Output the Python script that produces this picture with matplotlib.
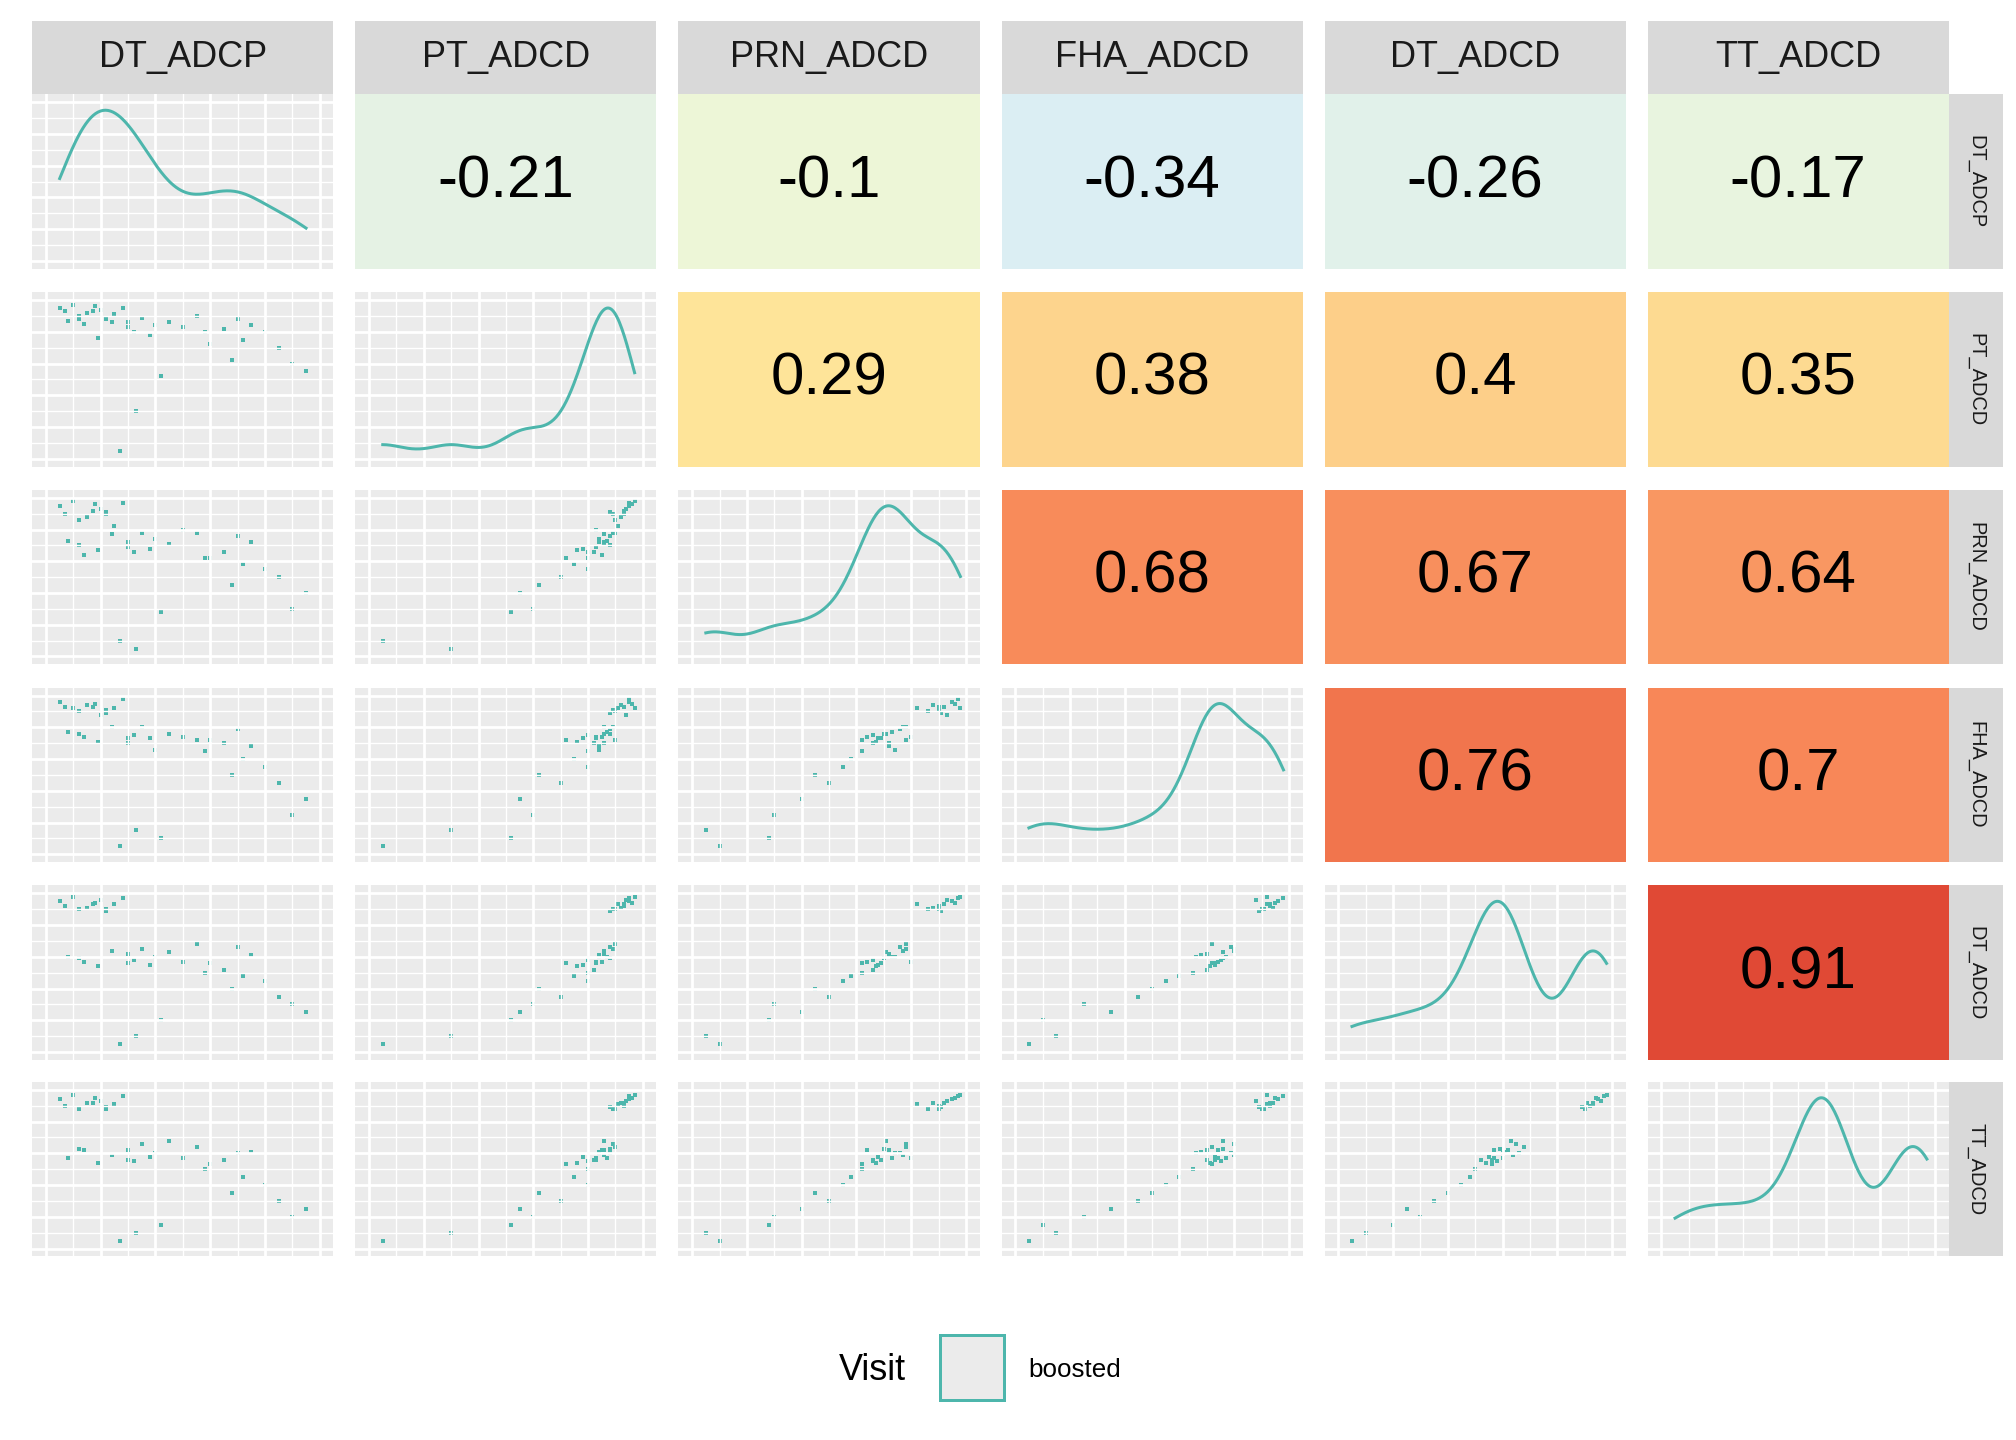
import numpy as np
import matplotlib.pyplot as plt
from matplotlib.colors import LinearSegmentedColormap

plt.rcParams['font.family'] = ['Liberation Sans', 'DejaVu Sans']

# variables (rescaled values)
names = ['DT_ADCP', 'PT_ADCD', 'PRN_ADCD', 'FHA_ADCD', 'DT_ADCD', 'TT_ADCD']
dt_adcp = [0.05, 0.07, 0.10, 0.12, 0.15, 0.18, 0.20, 0.22, 0.25, 0.28, 0.30, 0.32, 0.35, 0.38, 0.40,
           0.45, 0.50, 0.55, 0.60, 0.65, 0.70, 0.75, 0.80, 0.85, 0.90, 0.95, 0.08, 0.14, 0.19, 0.24,
           0.27, 0.33, 0.42, 0.58, 0.68, 0.72, 0.12, 0.30, 0.17, 0.22]
pt_adcd = [0.95, 0.93, 0.97, 0.90, 0.92, 0.96, 0.94, 0.88, 0.91, 0.95, 0.86, 0.80, 0.89, 0.78, 0.84,
           0.86, 0.83, 0.90, 0.72, 0.82, 0.88, 0.84, 0.80, 0.70, 0.60, 0.55, 0.87, 0.85, 0.76, 0.86,
           0.05, 0.30, 0.52, 0.80, 0.62, 0.75, 0.88, 0.83, 0.93, 0.89]
prn_adcd = [0.95, 0.90, 0.98, 0.86, 0.88, 0.96, 0.93, 0.91, 0.82, 0.97, 0.72, 0.66, 0.78, 0.68, 0.74,
            0.71, 0.80, 0.78, 0.62, 0.66, 0.76, 0.72, 0.55, 0.50, 0.30, 0.40, 0.73, 0.64, 0.67, 0.77,
            0.10, 0.05, 0.28, 0.62, 0.45, 0.58, 0.70, 0.69, 0.92, 0.90]
fha_adcd = [0.96, 0.93, 0.92, 0.90, 0.94, 0.95, 0.88, 0.89, 0.92, 0.98, 0.70, 0.75, 0.80, 0.73, 0.66,
            0.76, 0.74, 0.72, 0.72, 0.70, 0.79, 0.68, 0.55, 0.45, 0.25, 0.35, 0.77, 0.74, 0.71, 0.80,
            0.05, 0.15, 0.10, 0.65, 0.50, 0.60, 0.76, 0.73, 0.93, 0.91]
dt_adcd = [0.95, 0.92, 0.98, 0.90, 0.91, 0.94, 0.96, 0.89, 0.93, 0.97, 0.62, 0.58, 0.65, 0.55, 0.60,
           0.63, 0.57, 0.68, 0.56, 0.52, 0.66, 0.61, 0.45, 0.35, 0.30, 0.25, 0.60, 0.57, 0.54, 0.64,
           0.05, 0.10, 0.20, 0.50, 0.40, 0.48, 0.59, 0.56, 0.93, 0.90]
tt_adcd = [0.94, 0.90, 0.97, 0.88, 0.92, 0.95, 0.93, 0.89, 0.91, 0.96, 0.62, 0.55, 0.66, 0.58, 0.60,
           0.68, 0.57, 0.64, 0.53, 0.56, 0.60, 0.61, 0.40, 0.30, 0.20, 0.25, 0.57, 0.62, 0.54, 0.59,
           0.05, 0.10, 0.15, 0.50, 0.35, 0.45, 0.63, 0.56, 0.92, 0.88]
data = [dt_adcp, pt_adcd, prn_adcd, fha_adcd, dt_adcd, tt_adcd]

# correlation labels shown in the upper triangle
corr = {(0, 1): -0.21, (0, 2): -0.1, (0, 3): -0.34, (0, 4): -0.26, (0, 5): -0.17,
        (1, 2): 0.29, (1, 3): 0.38, (1, 4): 0.4, (1, 5): 0.35,
        (2, 3): 0.68, (2, 4): 0.67, (2, 5): 0.64,
        (3, 4): 0.76, (3, 5): 0.7,
        (4, 5): 0.91}

cmap = LinearSegmentedColormap.from_list('c', [
    (0.0, '#4575B4'), (0.325, '#DAEEF4'), (0.5, '#F5F9CC'), (0.645, '#FEE59A'),
    (0.7, '#FDD08A'), (0.85, '#F88858'), (1.0, '#D73027')])
teal = '#4DB6AC'

W, H = 1560, 1114
fig = plt.figure(figsize=(14, 10), dpi=144)
col_x = [25, 275, 525, 775, 1025, 1275]
pw = 233
row_y = [73, 226, 379, 532, 685, 837]
ph = 135


def ax_at(x, y, w, h):
    return fig.add_axes([x / W, 1 - (y + h) / H, w / W, h / H])


def grid_bg(ax):
    ax.set_facecolor('#EBEBEB')
    ax.set_xticks(np.linspace(0, 1, 6))
    ax.set_yticks(np.linspace(0, 1, 6))
    ax.set_xticks(np.linspace(0.1, 0.9, 5), minor=True)
    ax.set_yticks(np.linspace(0.1, 0.9, 5), minor=True)
    ax.grid(True, which='major', color='white', lw=1.4)
    ax.grid(True, which='minor', color='white', lw=0.7)
    ax.tick_params(which='both', length=0, labelbottom=False, labelleft=False)
    for s in ax.spines.values():
        s.set_visible(False)


for j, n in enumerate(names):
    sx = ax_at(col_x[j], 16, pw, 57)
    sx.set_facecolor('#D9D9D9')
    sx.set_xticks([]); sx.set_yticks([])
    for s in sx.spines.values():
        s.set_visible(False)
    sx.text(0.5, 0.5, n, ha='center', va='center', fontsize=18, color='#1A1A1A')
    sy = ax_at(1508, row_y[j], 42, ph)
    sy.set_facecolor('#D9D9D9')
    sy.set_xticks([]); sy.set_yticks([])
    for s in sy.spines.values():
        s.set_visible(False)
    sy.text(0.5, 0.5, n, ha='center', va='center', rotation=-90, fontsize=10, color='#1A1A1A')

for i in range(6):
    for j in range(6):
        ax = ax_at(col_x[j], row_y[i], pw, ph)
        if i < j:
            v = corr[(i, j)]
            ax.set_facecolor(cmap((v + 1) / 2))
            ax.set_xticks([]); ax.set_yticks([])
            for s in ax.spines.values():
                s.set_visible(False)
            ax.text(0.5, 0.5, str(v), ha='center', va='center', fontsize=30, color='black')
        elif i == j:
            grid_bg(ax)
            x = np.array(data[i])
            xs = np.linspace(x.min(), x.max(), 200)
            bw = 1.06 * x.std() * len(x) ** (-0.2) * 0.7
            d = np.exp(-0.5 * ((xs[:, None] - x[None, :]) / bw) ** 2).sum(1)
            d = d / d.max()
            ax.plot(xs, 0.05 + 0.9 * d, color=teal, lw=1.5)
            ax.set_xlim(-0.05, 1.05); ax.set_ylim(-0.05, 1.05)
        else:
            grid_bg(ax)
            ax.scatter(data[j], data[i], s=3, marker='s', color=teal, lw=0)
            ax.set_xlim(-0.05, 1.05); ax.set_ylim(-0.05, 1.05)

# legend
fig.text(675 / W, 1 - 1060 / H, 'Visit', fontsize=18, ha='center', va='center')
lk = ax_at(727, 1033, 50, 50)
lk.set_facecolor('#EBEBEB')
lk.set_xticks([]); lk.set_yticks([])
for s in lk.spines.values():
    s.set_color(teal); s.set_linewidth(1.5)
fig.text(796 / W, 1 - 1060 / H, 'boosted', fontsize=13, ha='left', va='center')

fig.savefig('out.png', dpi=144, facecolor='white')
